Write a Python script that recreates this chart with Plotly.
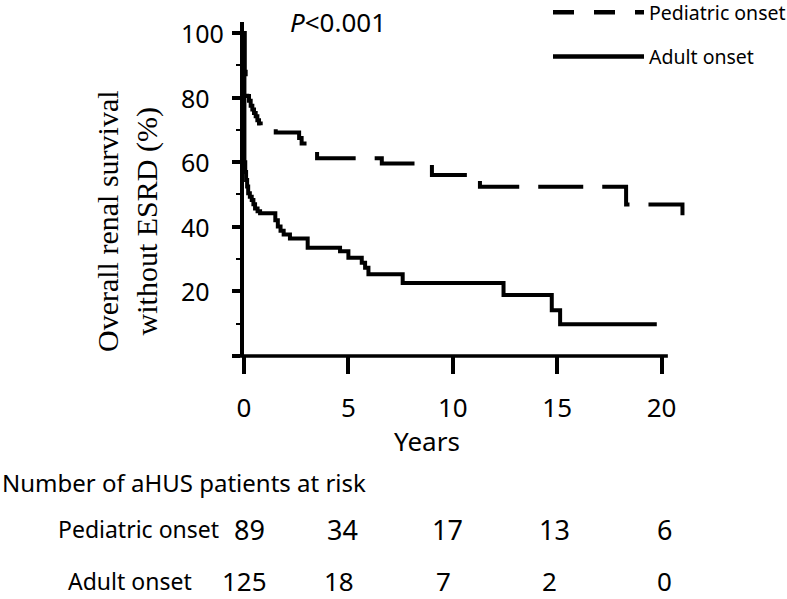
import plotly.graph_objects as go

# ---------------- data ----------------
ped_years = [0, 0.03, 0.08, 0.16, 0.24, 0.32, 0.40, 0.48, 0.56, 0.64, 0.72, 0.80,
             1.52, 2.64, 2.76, 3.50, 6.60, 9.00, 11.30, 18.30, 21.00]
ped_surv = [100, 88, 82, 80.5, 79, 77.5, 76.3, 75.2, 74.2, 73, 72, 71,
            69.2, 67.5, 65.8, 61.2, 59.6, 56.0, 52.4, 46.9, 43.6]

adult_years = [0, 0.02, 0.06, 0.10, 0.15, 0.20, 0.28, 0.37, 0.45, 0.53, 0.65, 0.77,
               1.50, 1.62, 1.75, 1.90, 2.20, 3.05, 4.60, 5.00, 5.64, 5.80, 5.96,
               7.60, 12.43, 14.74, 15.14, 19.77]
adult_surv = [100, 60, 57, 54.5, 52.5, 50.4, 49.3, 48.3, 47, 45.7, 44.8, 44.2,
              42, 40.1, 38.8, 37.6, 36.4, 33.5, 32.4, 30.4, 28.9, 27.3, 25.3,
              22.6, 18.9, 14.2, 9.8, 9.8]

risk_years = [0, 5, 10, 15, 20]
ped_at_risk = [89, 34, 17, 13, 6]
adult_at_risk = [125, 18, 7, 2, 0]

x_ticks = [0, 5, 10, 15, 20]
y_ticks = [0, 20, 40, 60, 80, 100]
y_tick_labels = ["", "20", "40", "60", "80", "100"]
y_minor_ticks = [10, 30, 50, 70, 90]

series_names = ["Pediatric onset", "Adult onset"]
p_value_text = "<i>P</i>&lt;0.001"
y_title = "Overall renal survival<br>without ESRD (%)"
x_title = "Years"
risk_title = "Number of aHUS patients at risk"

# ---------------- layout geometry ----------------
W, H = 787, 599
L, R, T, B = 244, 92, 22, 243
PW, PH = W - L - R, H - T - B
XMAX, YMAX = 21.6, 103.4
FONT = "Noto Sans"


def px(x):
    return (x - L) / PW


def py(y):
    return (H - B - y) / PH


fig = go.Figure()
# curves
fig.add_trace(go.Scatter(
    x=ped_years, y=ped_surv, mode="lines", name=series_names[0],
    showlegend=False,
    line=dict(shape="hv", color="black", width=4, dash="45px,19px"),
))
fig.add_trace(go.Scatter(
    x=adult_years, y=adult_surv, mode="lines", name=series_names[1],
    showlegend=False,
    line=dict(shape="hv", color="black", width=4),
))
# legend entries (the reference legend uses a shorter dash)
fig.add_trace(go.Scatter(
    x=[None], y=[None], mode="lines", name=series_names[0], legendgroup="p",
    line=dict(color="black", width=4.5, dash="21px,20px"),
))
fig.add_trace(go.Scatter(
    x=[None], y=[None], mode="lines", name=series_names[1], legendgroup="a",
    line=dict(color="black", width=4.5),
))

annotations = [
    dict(text=p_value_text, x=px(288), y=py(22.5), xref="paper", yref="paper",
         xanchor="left", yanchor="middle", showarrow=False,
         font=dict(size=26, family=FONT)),
    dict(text=x_title, x=px(427), y=py(441), xref="paper", yref="paper",
         xanchor="center", yanchor="middle", showarrow=False,
         font=dict(size=26, family=FONT)),
    dict(text=y_title, x=px(127), y=py(221), xref="paper", yref="paper",
         xanchor="center", yanchor="middle", textangle=-90, showarrow=False,
         font=dict(size=30, family="Liberation Serif")),
    dict(text=risk_title, x=px(0), y=py(482), xref="paper", yref="paper",
         xanchor="left", yanchor="middle", showarrow=False,
         font=dict(size=24, family=FONT)),
    dict(text=series_names[0], x=px(221), y=py(529), xref="paper", yref="paper",
         xanchor="right", yanchor="middle", showarrow=False,
         font=dict(size=23, family=FONT)),
    dict(text=series_names[1], x=px(194), y=py(581), xref="paper", yref="paper",
         xanchor="right", yanchor="middle", showarrow=False,
         font=dict(size=23, family=FONT)),
]
# y tick labels, left aligned as in the reference
for v, lab in zip(y_ticks, y_tick_labels):
    if lab:
        annotations.append(dict(text=lab, x=px(179), y=v, xref="paper", yref="y",
                                xanchor="left", yanchor="middle", showarrow=False,
                                font=dict(size=25, family=FONT)))
# numbers at risk
ped_shift = [5, -6, -5, -3, 3]
adult_shift = [0, -9, -9, -8, 3]
for yr, n, s in zip(risk_years, ped_at_risk, ped_shift):
    annotations.append(dict(text=str(n), x=yr, y=py(529), xref="x", yref="paper",
                            xanchor="center", yanchor="middle", showarrow=False,
                            xshift=s, font=dict(size=27, family=FONT)))
for yr, n, s in zip(risk_years, adult_at_risk, adult_shift):
    annotations.append(dict(text=str(n), x=yr, y=py(581), xref="x", yref="paper",
                            xanchor="center", yanchor="middle", showarrow=False,
                            xshift=s, font=dict(size=26, family=FONT)))

# x-axis line (extends a little left of 0 and ends just past 20)
shapes = [dict(type="line", xref="paper", yref="paper",
               x0=-0.48 / XMAX, x1=20.3 / XMAX, y0=0, y1=0,
               line=dict(color="black", width=3.5))]

fig.update_layout(
    width=W, height=H,
    margin=dict(l=L, r=R, t=T, b=B, autoexpand=False),
    plot_bgcolor="white", paper_bgcolor="white",
    font=dict(family=FONT, color="black"),
    xaxis=dict(range=[0, XMAX], tickmode="array", tickvals=x_ticks,
               ticks="outside", ticklen=17, tickwidth=3.5, tickcolor="black",
               showline=False, showgrid=False, zeroline=False,
               ticklabelstandoff=12,
               tickfont=dict(size=26, family=FONT)),
    yaxis=dict(range=[0, YMAX], tickmode="array", tickvals=y_ticks,
               ticks="outside", ticklen=8,
               tickwidth=3.5, tickcolor="black", showline=True, linewidth=4,
               linecolor="black", showgrid=False, zeroline=False,
               showticklabels=False,
               minor=dict(tickmode="array", tickvals=y_minor_ticks,
                          ticks="outside", ticklen=4, tickwidth=2,
                          tickcolor="black")),
    showlegend=True,
    legend=dict(xref="paper", yref="paper", x=px(548), y=1 + (T + 7) / PH,
                xanchor="left", yanchor="top",
                font=dict(size=19.5, family=FONT),
                itemwidth=91, tracegroupgap=16, bgcolor="rgba(0,0,0,0)"),
    annotations=annotations,
    shapes=shapes,
)

fig.write_html("out.html", config={"displayModeBar": False},
               post_script="document.body.style.margin='0';")
